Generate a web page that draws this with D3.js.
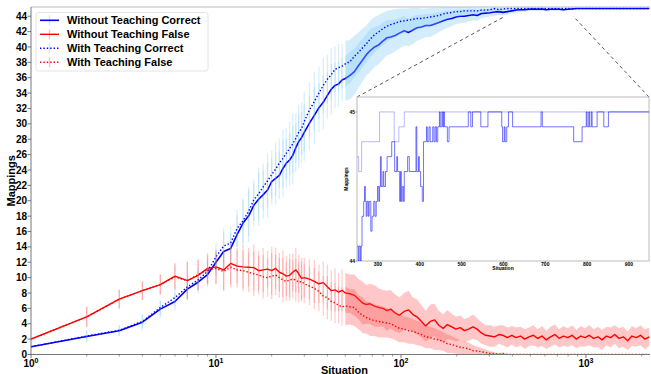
<!DOCTYPE html>
<html><head><meta charset="utf-8">
<script src="https://cdn.jsdelivr.net/npm/d3@7"></script>
<style>
body{margin:0;background:#fff}
svg{display:block}
text{font-family:"Liberation Sans",Arial,sans-serif;font-weight:bold;fill:#000}
</style>
</head><body>
<svg id="c" width="651" height="374"></svg>
<script>
// ---------------- data ----------------
const situations = [
  1,2,3,4,5,6,7,8,9,10,11,12,13,14,15,16,17,18,19,20,21,22,23,24,25,26,27,28,29,30,
  32,34,36,38,40,42,44,46,48,50,
  53,56,59,62,65,68,72,76,80,84,88,93,98,
  104,110,116,122,129,136,144,152,160,169,178,188,198,
  209,220,232,245,258,272,287,303,320,338,356,376,397,419,442,466,492,519,548,578,610,643,679,716,755,797,841,887,936,988,
  1040,1100,1160,1220,1290,1360,1430,1510,1590,1680,1770,1870,1970,2080,2200
];
const withoutCorrect = [
  1.0,2.35,3.1,4.2,5.9,6.9,8.5,9.4,10.4,12.0,13.4,13.8,15.6,
  17.1,18.0,19.4,20.2,20.8,21.4,22.5,22.9,23.3,24.2,24.9,25.3,25.9,26.9,27.7,28.2,28.9,
  30.1,31.1,32.1,32.8,33.7,34.5,35.0,35.2,35.7,35.9,
  36.3,36.8,37.6,38.3,39.0,39.5,40.0,40.3,40.8,41.2,41.3,41.5,41.8,
  42.1,41.9,42.2,42.5,42.6,42.8,42.8,43.0,43.2,43.4,43.6,43.7,43.9,
  44.0,44.0,44.1,44.2,44.1,44.35,44.4,44.45,44.55,44.6,44.5,44.6,44.7,44.8,44.85,44.85,44.9,44.95,44.9,44.95,44.85,44.9,44.9,44.9,44.85,44.9,44.95,45,45,45,
  45,45,45,45,45,45,45,45,45,45,45,45,45,45,45
];
const withoutCorrectErr = [
  0.1,0.75,0.7,1.0,1.1,1.1,1.3,1.5,1.6,1.7,2.5,2.0,2.5,
  3.0,3.4,2.8,3.5,3.1,3.6,3.0,3.4,3.1,3.7,3.2,3.4,3.8,3.1,3.5,3.3,3.7,
  3.5,3.7,3.2,3.5,3.1,3.3,2.9,3.0,2.8,2.9,
  3.1,3.0,2.9,2.8,2.7,2.8,2.6,2.5,2.4,2.3,2.2,2.1,2.0,
  1.9,1.8,1.8,1.7,1.6,1.5,1.5,1.4,1.3,1.2,1.1,1.0,0.95,
  0.9,0.85,0.8,0.75,0.7,0.6,0.55,0.5,0.5,0.45,0.4,0.4,0.35,0.3,0.3,0.25,0.25,0.2,0.2,0.25,0.2,0.2,0.2,0.15,0.2,0.15,0.1,0,0,0,
  0,0,0,0,0,0,0,0,0,0,0,0,0,0,0
];
const withoutFalse = [
  2.0,4.9,7.2,8.3,9.1,10.2,9.6,10.3,11.2,11.4,11.0,11.85,11.5,
  11.4,11.35,11.3,10.9,11.0,11.1,10.9,11.2,10.7,10.5,10.2,10.3,10.7,11.0,10.5,9.9,10.0,
  9.8,9.5,9.2,9.35,8.8,8.3,8.4,8.1,8.35,8.0,
  7.9,7.7,7.2,6.7,6.5,6.6,6.3,6.1,6.0,5.7,5.9,5.4,5.1,
  5.6,5.8,5.2,4.9,4.3,3.7,4.3,4.5,3.8,3.4,3.9,3.6,3.3,
  3.5,3.1,3.3,3.6,3.3,2.8,2.5,2.4,2.3,2.6,2.5,2.2,2.5,2.2,2.4,2.0,2.3,2.5,2.1,2.4,1.9,2.3,2.6,2.1,2.4,2.2,2.5,2.0,2.4,2.2,
  2.5,2.1,2.3,1.9,2.4,2.2,2.6,2.1,2.3,1.8,2.4,2.2,2.5,2.0,2.3
];
const withoutFalseErr = [
  0.1,1.3,1.25,1.2,1.3,1.7,2.5,2.0,2.0,2.2,2.6,2.7,2.2,
  2.8,2.5,3.0,2.6,2.9,2.4,3.1,2.7,2.5,3.0,2.6,2.8,2.4,2.9,2.5,2.7,2.6,
  2.6,2.8,2.5,2.7,2.9,2.6,2.8,2.5,2.7,2.6,
  2.5,2.7,2.6,2.8,2.5,2.6,2.7,2.5,2.4,2.6,2.5,2.4,2.3,
  2.4,2.5,2.2,2.3,2.1,2.0,2.2,2.1,1.9,1.8,1.9,1.7,1.6,
  1.6,1.5,1.5,1.6,1.4,1.4,1.3,1.4,1.3,1.2,1.3,1.3,1.2,1.3,1.2,1.3,1.2,1.3,1.2,1.3,1.2,1.3,1.3,1.2,1.3,1.2,1.3,1.2,1.3,1.2,
  1.3,1.2,1.3,1.3,1.2,1.3,1.2,1.3,1.3,1.2,1.3,1.2,1.3,1.3,1.2
];
const withCorrect = [
  1.0,2.4,3.15,4.3,6.1,7.4,8.8,9.7,10.8,12.7,14.1,14.5,16.4,
  17.4,18.6,20.1,20.9,21.8,22.6,23.4,24.1,24.9,25.5,26.2,26.8,27.4,28.1,28.9,29.4,30.3,
  31.8,32.9,34.0,35.0,35.8,36.4,37.1,37.3,37.5,37.8,
  38.1,38.8,39.3,39.9,40.4,41.0,41.6,42.0,42.4,42.7,42.9,43.1,43.3,
  43.4,43.5,43.6,43.7,43.7,43.8,43.9,44.0,44.1,44.3,44.4,44.5,44.6,
  44.6,44.7,44.7,44.7,44.7,44.8,44.8,44.85,45,44.85,44.95,45,45,45,45,45,45,45,45,45,45,45,45,45,45,45,45,45,45,45,
  45,45,45,45,45,45,45,45,45,45,45,45,45,45,45
];
const withCorrectErr = [
  0.1,0.7,0.7,0.9,1.0,1.2,1.3,1.4,1.5,1.8,2.3,2.1,2.4,
  2.9,3.2,2.7,3.4,3.0,3.6,3.1,3.5,3.2,3.8,3.3,3.5,3.9,3.2,3.6,3.4,3.9,
  3.6,3.8,3.4,3.6,3.2,3.4,3.0,3.1,2.9,3.0,
  2.8,2.7,2.6,2.5,2.4,2.4,2.3,2.2,2.1,2.0,1.9,1.8,1.7,
  1.6,1.5,1.5,1.4,1.3,1.2,1.2,1.1,1.0,0.9,0.8,0.7,0.65,
  0.6,0.55,0.5,0.45,0.4,0.35,0.3,0.3,0.2,0.25,0.2,0.15,0,0,0,0,0,0,0,0,0,0,0,0,0,0,0,0,0,0,
  0,0,0,0,0,0,0,0,0,0,0,0,0,0,0
];
const withFalse = [
  2.0,4.9,7.2,8.3,9.1,10.1,9.6,10.4,11.0,11.2,10.8,11.35,11.0,
  10.9,10.7,10.5,10.35,10.1,10.0,10.2,10.35,10.0,9.7,9.5,9.7,9.8,9.7,9.4,9.5,9.2,
  8.9,8.6,8.2,7.6,7.4,6.9,6.7,6.4,6.2,6.3,
  6.2,6.1,5.5,5.1,4.8,4.6,4.4,4.3,4.2,4.1,4.0,3.7,3.4,
  3.3,3.1,3.0,2.8,2.6,2.3,2.2,2.0,1.9,1.7,1.4,1.3,1.1,
  0.95,0.85,0.75,0.5,0.45,0.35,0.25,0.15,0.1,0.05,0.1,0,0,0,0,0,0,0,0,0,0,0,0,0,0,0,0,0,0,0,
  0,0,0,0,0,0,0,0,0,0,0,0,0,0,0
];
const withFalseErr = [
  0.1,1.3,1.2,1.2,1.3,1.6,2.4,2.0,1.9,2.1,2.5,2.6,2.3,
  2.7,2.6,2.9,2.5,2.8,2.5,3.0,2.6,2.6,2.9,2.5,2.7,2.5,2.8,2.6,2.6,2.5,
  2.5,2.7,2.6,2.6,2.8,2.5,2.6,2.4,2.5,2.5,
  2.3,2.4,2.2,2.3,2.1,2.2,2.0,2.1,2.0,1.9,1.9,1.8,1.8,
  1.7,1.7,1.6,1.6,1.5,1.5,1.4,1.4,1.3,1.2,1.2,1.1,1.0,
  0.9,0.85,0.8,0.7,0.6,0.5,0.4,0.3,0.2,0.15,0.2,0,0,0,0,0,0,0,0,0,0,0,0,0,0,0,0,0,0,0,
  0,0,0,0,0,0,0,0,0,0,0,0,0,0,0
];
const seriesNames = ["Without Teaching Correct","Without Teaching False","With Teaching Correct","With Teaching False"];

const yTicks = [0,2,4,6,8,10,12,14,16,18,20,22,24,26,28,30,32,34,36,38,40,42,44];
const xMajorTicks = [1,10,100,1000];
const xTickExponents = ["0","1","2","3"];

// inset (zoomed) data: step change points
const insetWithoutX = [250,253,255,258,260,262,266,268,270,272,274,277,279,283,286,290,293,296,299,302,304,306,308,312,314,318,322,333,340,345,347,352,354,356,358,361,363,371,375,391,393,397,399,402,406,409,416,418,422,425,431,434,437,440,443,447,449,453,455,457,459,466,470,516,522,526,546,563,596,598,602,604,608,612,622,690,693,768,788,798,800,804,806,810,812,816,824,840,851,950];
const insetWithoutY = [44.1,44.0,44.1,44.0,44.1,44.3,44.4,44.5,44.4,44.3,44.4,44.3,44.4,44.2,44.3,44.4,44.3,44.4,44.5,44.4,44.5,44.7,44.5,44.6,44.5,44.6,44.7,44.8,44.6,44.7,44.6,44.4,44.6,44.4,44.5,44.4,44.6,44.7,44.6,44.9,44.6,44.7,44.6,44.5,44.4,44.8,44.9,44.8,44.9,44.8,44.9,44.8,44.9,44.8,44.9,45.0,44.9,45.0,44.9,45.0,44.9,44.8,44.9,45.0,44.9,45.0,44.9,45.0,44.9,44.8,44.9,44.8,44.9,45.0,44.9,45.0,44.9,44.8,44.9,45.0,44.9,45.0,44.9,45.0,44.9,44.9,45.0,44.9,45.0,45.0];
const insetWithX = [250,254,261,304,339,350,363,950];
const insetWithY = [44.7,44.6,44.8,45.0,44.8,44.9,45.0,45.0];
const insetXTicks = [300,400,500,600,700,800,900];
const insetYTicks = [44,45];
// zoom-region anchors (data units in main axes) for connector lines
const connectorMainX = [365,853];
const connectorMainY = [44,44];

// ---------------- drawing ----------------
const svg = d3.select("#c");
const L=31, R=650, T=7, B=354.5;
const x = d3.scaleLog().domain([1,2218]).range([L,R]);
const y = d3.scaleLinear().domain([0,45.2]).range([B,T]);

svg.append("defs").append("clipPath").attr("id","pc")
  .append("rect").attr("x",L).attr("y",T).attr("width",R-L).attr("height",B-T);

// inset geometry
const IL=357, IR=649, IT=97, IB=261;
const xi = d3.scaleLinear().domain([250,948]).range([IL,IR]);
const yi = d3.scaleLinear().domain([44,45.1]).range([IB,IT]);

// connector lines (beneath data)
const conn = svg.append("g").attr("clip-path","url(#pc)");
const insetCorners = [[IL,IT],[IR,IT]];
connectorMainX.forEach((cx,i)=>{
  conn.append("line")
    .attr("x1",insetCorners[i][0]).attr("y1",insetCorners[i][1])
    .attr("x2",x(cx)).attr("y2",y(connectorMainY[i]))
    .attr("stroke","#444").attr("stroke-width",0.9).attr("stroke-dasharray","3.5,3");
});

const plot = svg.append("g").attr("clip-path","url(#pc)");
const series = [
  {m:withoutCorrect,e:withoutCorrectErr,color:"#0000ff",bar:"rgb(135,206,250)",barOp:0.32,dash:null,w:1.6},
  {m:withoutFalse,e:withoutFalseErr,color:"#ff0000",bar:"rgb(255,70,70)",barOp:0.26,dash:null,w:1.4},
  {m:withCorrect,e:withCorrectErr,color:"#0000ff",bar:"rgb(135,206,250)",barOp:0.32,dash:"1.4,2",w:1.4},
  {m:withFalse,e:withFalseErr,color:"#ff0000",bar:"rgb(255,70,70)",barOp:0.26,dash:"1.4,2",w:1.4}
];
const denseFrom = 50;
series.forEach(s=>{
  const pts = situations.map((sx,i)=>({x:sx,m:s.m[i],e:s.e[i]}));
  // sparse error bars
  plot.append("g").selectAll("line").data(pts.filter(p=>p.x<denseFrom)).join("line")
    .attr("x1",p=>x(p.x)).attr("x2",p=>x(p.x))
    .attr("y1",p=>y(p.m-p.e)).attr("y2",p=>y(p.m+p.e))
    .attr("stroke",s.bar).attr("stroke-opacity",s.barOp).attr("stroke-width",1.3);
  // dense region: bars merge into a band
  const area = d3.area().x(p=>x(p.x)).y0(p=>y(p.m-p.e)).y1(p=>y(p.m+p.e));
  plot.append("path").datum(pts.filter(p=>p.x>=denseFrom))
    .attr("d",area).attr("fill",s.bar).attr("fill-opacity",s.barOp+0.04);
  const line = d3.line().x(p=>x(p.x)).y(p=>y(p.m));
  plot.append("path").datum(pts).attr("d",line).attr("fill","none")
    .attr("stroke",s.color).attr("stroke-width",s.w)
    .attr("stroke-dasharray",s.dash).attr("stroke-linejoin","round");
});

// spines
svg.append("line").attr("x1",L).attr("x2",R).attr("y1",T).attr("y2",T).attr("stroke","#bbb").attr("stroke-width",1);
svg.append("line").attr("x1",L).attr("x2",L).attr("y1",T).attr("y2",B).attr("stroke","#777").attr("stroke-width",1);
svg.append("line").attr("x1",L).attr("x2",R).attr("y1",B).attr("y2",B).attr("stroke","#777").attr("stroke-width",1);

// y axis
const yAx = svg.append("g");
yTicks.forEach(v=>{
  yAx.append("line").attr("x1",L-3.5).attr("x2",L).attr("y1",y(v)).attr("y2",y(v)).attr("stroke","#555").attr("stroke-width",0.8);
  yAx.append("text").attr("x",L-4).attr("y",y(v)).attr("dy","0.36em").attr("text-anchor","end")
    .attr("font-size",10).text(v);
});
// x axis
const xAx = svg.append("g");
const minor = [];
[1,10,100,1000].forEach(d=>{for(let k=2;k<=9;k++){const v=d*k; if(v<=2218) minor.push(v);}});
minor.forEach(v=>{
  xAx.append("line").attr("x1",x(v)).attr("x2",x(v)).attr("y1",B).attr("y2",B+2).attr("stroke","#555").attr("stroke-width",0.6);
});
xMajorTicks.forEach((v,i)=>{
  xAx.append("line").attr("x1",x(v)).attr("x2",x(v)).attr("y1",B).attr("y2",B+3.5).attr("stroke","#555").attr("stroke-width",0.8);
  const t = xAx.append("text").attr("x",x(v)).attr("y",367.2).attr("text-anchor","middle");
  t.append("tspan").attr("font-size",10).text("10");
  t.append("tspan").attr("font-size",7).attr("dy",-4).text(xTickExponents[i]);
});
svg.append("text").attr("x",(L+R)/2+4).attr("y",373.5).attr("text-anchor","middle").attr("font-size",11).text("Situation");
svg.append("text").attr("transform",`translate(15,${(T+B)/2}) rotate(-90)`).attr("text-anchor","middle").attr("font-size",11).text("Mappings");

// legend
const lg = svg.append("g");
lg.append("rect").attr("x",36).attr("y",12.5).attr("width",172).attr("height",58.5).attr("rx",2.5)
  .attr("fill","#fff").attr("fill-opacity",0.8).attr("stroke","#ddd").attr("stroke-width",0.8);
seriesNames.forEach((name,i)=>{
  const s = series[i];
  const cy = 20.3 + i*14;
  lg.append("line").attr("x1",49.5).attr("x2",49.5).attr("y1",cy-5).attr("y2",cy+5)
    .attr("stroke",s.bar).attr("stroke-opacity",s.barOp+0.1).attr("stroke-width",1.3);
  lg.append("line").attr("x1",40).attr("x2",59).attr("y1",cy).attr("y2",cy)
    .attr("stroke",s.color).attr("stroke-width",s.w).attr("stroke-dasharray",s.dash);
  lg.append("text").attr("x",67).attr("y",cy).attr("dy","0.36em").attr("font-size",11).text(name);
});

// inset
const ins = svg.append("g");
ins.append("rect").attr("x",IL).attr("y",IT).attr("width",IR-IL).attr("height",IB-IT)
  .attr("fill","#fff").attr("stroke","#bbb").attr("stroke-width",1);
ins.append("clipPath").attr("id","ic").append("rect").attr("x",IL).attr("y",IT).attr("width",IR-IL).attr("height",IB-IT);
const ig = ins.append("g").attr("clip-path","url(#ic)");
const stepLine = d3.line().curve(d3.curveStepAfter).x(d=>xi(d[0])).y(d=>yi(d[1]));
ig.append("path").datum(insetWithX.map((v,i)=>[v,insetWithY[i]])).attr("d",stepLine)
  .attr("fill","none").attr("stroke","#0000ff").attr("stroke-opacity",0.28).attr("stroke-width",1);
ig.append("path").datum(insetWithoutX.map((v,i)=>[v,insetWithoutY[i]])).attr("d",stepLine)
  .attr("fill","none").attr("stroke","#0000ff").attr("stroke-opacity",0.55).attr("stroke-width",1);
insetXTicks.forEach(v=>{
  ins.append("line").attr("x1",xi(v)).attr("x2",xi(v)).attr("y1",IB).attr("y2",IB+1.5).attr("stroke","#555").attr("stroke-width",0.5);
  ins.append("text").attr("x",xi(v)).attr("y",IB+4.5).attr("text-anchor","middle").attr("font-size",5).text(v);
});
insetYTicks.forEach(v=>{
  ins.append("line").attr("x1",IL-1.5).attr("x2",IL).attr("y1",yi(v)).attr("y2",yi(v)).attr("stroke","#555").attr("stroke-width",0.5);
  ins.append("text").attr("x",IL-2).attr("y",yi(v)).attr("dy","0.36em").attr("text-anchor","end").attr("font-size",5).text(v);
});
ins.append("text").attr("x",(IL+IR)/2).attr("y",IB+9).attr("text-anchor","middle").attr("font-size",5).text("Situation");
ins.append("text").attr("transform",`translate(347.5,${(IT+IB)/2}) rotate(-90)`).attr("text-anchor","middle").attr("font-size",5).text("Mappings");
</script>
</body></html>
